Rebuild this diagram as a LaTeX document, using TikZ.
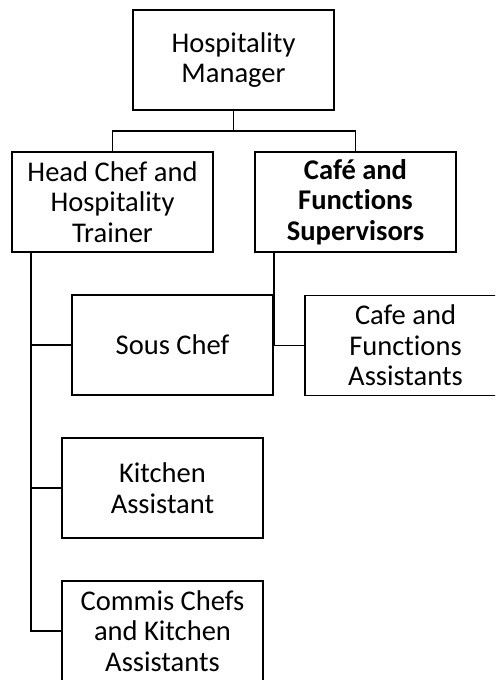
\documentclass[tikz,border=0pt]{standalone}
\usepackage{fontspec}
\setmainfont{Carlito}[Ligatures=NoCommon]
\usetikzlibrary{positioning,calc}

\tikzset{
    role/.style={draw, line width=1.4pt, minimum width=150.75pt, minimum height=75pt,
        align=center, inner sep=0pt, font=\fontsize{21.4}{22.8}\selectfont},
    link/.style={line width=1.4pt}
}

\begin{document}
\begin{tikzpicture}[x=0.75pt, y=-0.75pt]
    \clip (0,0) rectangle (495,680);
    \useasboundingbox (0,0) rectangle (495,680);

    % Top level
    \node[role] (mgr) at (233.5,60) {Hospitality\\Manager};

    % Second level
    \node[role] (head) at (112.5,202) {Head Chef and\\Hospitality\\Trainer};
    \node[role] (cafe) at (355.5,202) {\textbf{Café and}\\\textbf{Functions}\\\textbf{Supervisors}};

    % Staff
    \node[role] (sous) at (172.5,345) {Sous Chef};
    \node[role] (cafeasst) at (405.5,345.5) {Cafe and\\Functions\\Assistants};
    \node[role] (kitchen) at (162.5,488) {Kitchen\\Assistant};
    \node[role] (commis) at (162.5,631) {Commis Chefs\\and Kitchen\\Assistants};

    % Connectors
    \coordinate (bus) at (233.5,131);
    \draw[link] (mgr.south) -- (bus);
    \draw[link] (head.north) |- (bus) -| (cafe.north);

    \coordinate (headtrunk) at ($(head.south west)+(20,0)$);
    \coordinate (cafetrunk) at ($(cafe.south west)+(20,0)$);
    \draw[link] (headtrunk) |- (commis.west);
    \draw[link] (headtrunk) |- (sous.west);
    \draw[link] (headtrunk) |- (kitchen.west);
    \draw[link] (cafetrunk) |- (cafeasst.west);
\end{tikzpicture}
\end{document}
